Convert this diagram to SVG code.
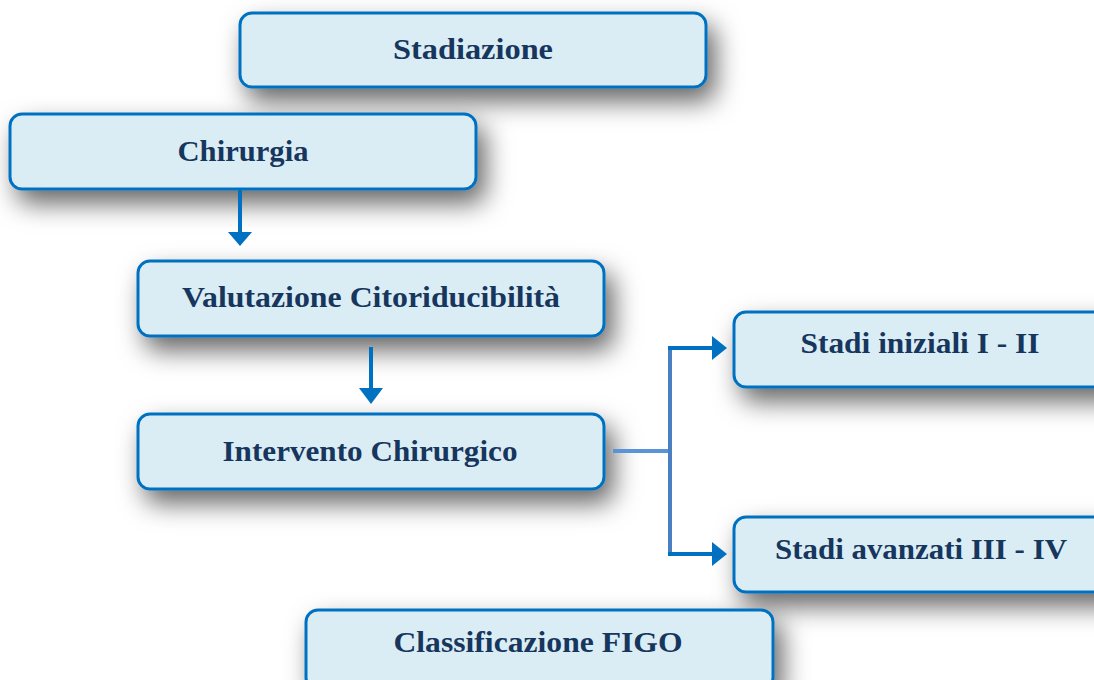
<svg xmlns="http://www.w3.org/2000/svg" width="1094" height="680" viewBox="0 0 1094 680">
<defs>
<filter id="sh" x="-15%" y="-50%" width="140%" height="250%">
<feDropShadow dx="8" dy="13" stdDeviation="13" flood-color="#000" flood-opacity="0.6"/>
</filter>
</defs>
<style>
.box{fill:#dbedf4;stroke:#0070c0;stroke-width:3}
.lbl{font-family:"Liberation Serif","DejaVu Serif",serif;font-weight:bold;font-size:30px;fill:#17365d;text-anchor:middle}
.ln{fill:none;stroke:#0070c0;stroke-width:4}
.hd{fill:#0070c0}
</style>
<rect width="1094" height="680" fill="#ffffff"/>
<g id="stadiazione">
<rect class="box" x="240" y="13" width="466" height="74" rx="12" filter="url(#sh)"/>
<text class="lbl" x="473" y="59" textLength="160" lengthAdjust="spacingAndGlyphs">Stadiazione</text>
</g>
<g id="chirurgia">
<rect class="box" x="10" y="114" width="466" height="75" rx="12" filter="url(#sh)"/>
<text class="lbl" x="243" y="161" textLength="131" lengthAdjust="spacingAndGlyphs">Chirurgia</text>
</g>
<g id="valutazione">
<rect class="box" x="138" y="261" width="466" height="75" rx="12" filter="url(#sh)"/>
<text class="lbl" x="371" y="307" textLength="378" lengthAdjust="spacingAndGlyphs">Valutazione Citoriducibilità</text>
</g>
<g id="intervento">
<rect class="box" x="138" y="414" width="466" height="75" rx="12" filter="url(#sh)"/>
<text class="lbl" x="370" y="461" textLength="295" lengthAdjust="spacingAndGlyphs">Intervento Chirurgico</text>
</g>
<g id="iniziali">
<rect class="box" x="734" y="312" width="400" height="75" rx="12" filter="url(#sh)"/>
<text class="lbl" x="920" y="353" textLength="239" lengthAdjust="spacingAndGlyphs">Stadi iniziali I - II</text>
</g>
<g id="avanzati">
<rect class="box" x="734" y="517" width="400" height="75" rx="12" filter="url(#sh)"/>
<text class="lbl" x="921" y="559" textLength="292" lengthAdjust="spacingAndGlyphs">Stadi avanzati III - IV</text>
</g>
<g id="figo">
<rect class="box" x="306" y="610" width="467" height="80" rx="12" filter="url(#sh)"/>
<text class="lbl" x="538" y="652" textLength="289" lengthAdjust="spacingAndGlyphs">Classificazione FIGO</text>
</g>
<g id="connectors">
<line class="ln" x1="240" y1="190" x2="240" y2="234"/>
<polygon class="hd" points="228,232 252,232 240,246"/>
<line class="ln" x1="371" y1="347" x2="371" y2="390"/>
<polygon class="hd" points="359,388 383,388 371,404"/>
<line x1="613" y1="451" x2="670" y2="451" stroke="#5b93d8" stroke-width="4"/>
<line x1="670" y1="347" x2="670" y2="556" stroke="#4a7fc2" stroke-width="4"/>
<line class="ln" x1="668" y1="348" x2="714" y2="348"/>
<polygon class="hd" points="712,336 712,360 727,348"/>
<line class="ln" x1="668" y1="554" x2="714" y2="554"/>
<polygon class="hd" points="712,542 712,566 727,554"/>
</g>
</svg>
